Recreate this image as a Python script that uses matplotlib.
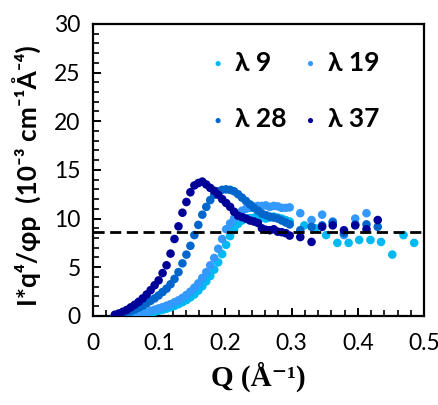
import matplotlib
matplotlib.use("Agg")
import matplotlib.pyplot as plt

# dense Q grid shared by the four samples (A^-1)
q_dense = [
    0.033, 0.039, 0.045, 0.051, 0.057, 0.063, 0.069, 0.075, 0.081, 0.087,
    0.093, 0.099, 0.105, 0.111, 0.117, 0.123, 0.129, 0.135, 0.141, 0.147,
    0.153, 0.159, 0.165, 0.171, 0.177, 0.183, 0.189, 0.195, 0.201, 0.207,
    0.213, 0.219, 0.225, 0.231, 0.237, 0.243, 0.249, 0.255, 0.261, 0.267,
    0.273, 0.279, 0.285, 0.291, 0.297,
]

lam9_dense = [
    0.01, 0.02, 0.04, 0.06, 0.09, 0.12, 0.16, 0.21, 0.27, 0.34,
    0.42, 0.52, 0.62, 0.74, 0.88, 1.03, 1.2, 1.4, 1.62, 1.9,
    2.2, 2.6, 3.05, 3.55, 4.1, 4.75, 5.5, 6.35, 7.3, 8.2,
    8.9, 9.45, 9.8, 10.0, 10.05, 10.1, 10.15, 10.1, 10.0, 10.1,
    10.2, 10.1, 10.0, 9.85, 9.7,
]
lam19_dense = [
    0.02, 0.05, 0.08, 0.12, 0.17, 0.22, 0.28, 0.35, 0.43, 0.53,
    0.64, 0.77, 0.9, 1.05, 1.2, 1.4, 1.6, 1.85, 2.15, 2.5,
    2.9, 3.35, 3.9, 4.5, 5.2, 5.95, 6.9, 7.9, 8.9, 9.5,
    10.0, 10.5, 10.8, 11.0, 11.1, 11.25, 11.3, 11.3, 11.35, 11.2,
    11.3, 11.25, 11.1, 11.1, 11.15,
]
lam28_dense = [
    0.05, 0.12, 0.22, 0.33, 0.48, 0.65, 0.85, 1.05, 1.3, 1.55,
    1.8, 2.1, 2.45, 2.8, 3.25, 3.8, 4.5, 5.4, 6.3, 7.2,
    8.3, 9.35, 10.4, 11.2, 11.9, 12.45, 12.8, 12.95, 13.0, 12.95,
    12.8, 12.5, 12.15, 11.8, 11.45, 11.1, 10.8, 10.5, 10.35, 10.2,
    10.1, 10.0, 9.8, 9.6, 9.4,
]
lam37_dense = [
    0.12, 0.25, 0.42, 0.62, 0.88, 1.15, 1.45, 1.8, 2.2, 2.65,
    3.15, 3.65, 4.4, 5.2, 6.4, 7.9, 9.2, 10.6, 11.7, 12.7,
    13.4, 13.65, 13.8, 13.5, 13.15, 12.85, 12.45, 12.0, 11.6, 11.2,
    10.7, 10.3, 10.15, 10.0, 9.8, 9.7, 9.55, 9.0, 8.85, 8.8,
    8.9, 8.65, 8.6, 8.5, 8.25,
]

# sparse high-Q points
q9_sparse = [0.319, 0.336, 0.352, 0.369, 0.386, 0.402, 0.419, 0.435, 0.452, 0.469, 0.485]
lam9_sparse = [9.3, 9.0, 8.3, 7.5, 7.5, 7.8, 7.8, 7.6, 6.3, 8.3, 7.5]
q19_sparse = [0.313, 0.330, 0.346, 0.362, 0.379, 0.396, 0.413]
lam19_sparse = [10.55, 9.85, 10.4, 9.7, 8.3, 10.0, 10.55]
q_sparse = [0.313, 0.330, 0.346, 0.362, 0.379, 0.396, 0.413, 0.430]
lam28_sparse = [8.8, 9.15, 9.3, 9.6, 8.5, 9.4, 9.4, 9.15]
lam37_sparse = [8.1, 7.6, 9.15, 9.3, 8.8, 9.3, 8.9, 9.85]

plateau = 8.57

series = [
    ("λ 9", q_dense + q9_sparse, lam9_dense + lam9_sparse, "#00B8F2"),
    ("λ 19", q_dense + q19_sparse, lam19_dense + lam19_sparse, "#3399FF"),
    ("λ 28", q_dense + q_sparse, lam28_dense + lam28_sparse, "#0066CC"),
    ("λ 37", q_dense + q_sparse, lam37_dense + lam37_sparse, "#000099"),
]

sans = ["Lato", "DejaVu Sans"]
serif = ["Liberation Serif", "DejaVu Serif"]

fig = plt.figure(figsize=(4.39, 4.05), dpi=100)
ax = fig.add_axes([0.212, 0.22, 0.754, 0.721])

handles = {}
for label, q, val, color in series:
    handles[label] = ax.scatter(q, val, s=38, color=color, edgecolors="none",
                                label=label, zorder=3)

ax.plot([0, 0.495], [plateau, plateau], color="black", linestyle=(0, (4, 2)),
        linewidth=2.0, zorder=4)

ax.set_xlim(0, 0.5)
ax.set_ylim(0, 30)
ax.set_xticks([0, 0.1, 0.2, 0.3, 0.4, 0.5])
ax.set_xticklabels(["0", "0.1", "0.2", "0.3", "0.4", "0.5"])
ax.set_yticks([0, 5, 10, 15, 20, 25, 30])
ax.set_xticks([i * 0.02 for i in range(26)], minor=True)
ax.set_yticks(list(range(31)), minor=True)

for side in ["left", "right", "top", "bottom"]:
    ax.spines[side].set_linewidth(1.6)

ax.tick_params(which="major", direction="in", length=6, width=1.4,
               labelsize=16.5, top=False, right=False)
ax.tick_params(which="minor", direction="in", length=4.5, width=1.2,
               top=False, right=False)
ax.tick_params(axis="y", which="major", pad=9)
ax.tick_params(axis="x", which="major", pad=12)
for t in ax.get_xticklabels() + ax.get_yticklabels():
    t.set_family(sans)

ax.set_ylabel("I*q⁴/φp  (10⁻³ cm⁻¹Å⁻⁴)", family=sans, fontsize=19,
              fontweight="bold")
ax.yaxis.set_label_coords(-0.155, 0.48)
ax.set_xlabel("Q (Å⁻¹)", family=serif, fontsize=21, fontweight="bold",
              labelpad=6)

# row-major order: λ9 λ19 / λ28 λ37
order = ["λ 9", "λ 28", "λ 19", "λ 37"]
leg = ax.legend([handles[k] for k in order], order, ncol=2, loc="upper left",
                bbox_to_anchor=(0.306, 0.945), frameon=False, markerscale=0.6,
                handletextpad=0.15, handlelength=1.0, columnspacing=0.4,
                labelspacing=1.25, borderaxespad=0,
                prop={"family": sans, "weight": "bold", "size": 19})

fig.savefig("out.png", dpi=100)
